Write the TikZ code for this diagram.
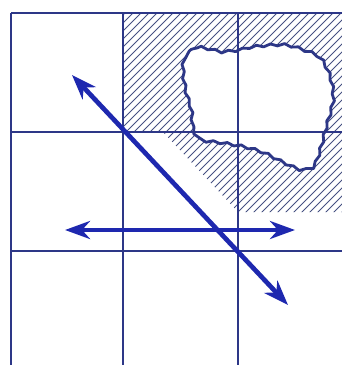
\documentclass[tikz,border=0pt]{standalone}
\usepackage{tikz}
\usetikzlibrary{arrows.meta,decorations.pathmorphing}

\definecolor{gridblue}{RGB}{45,55,135}
\definecolor{arrowblue}{RGB}{30,40,175}
\definecolor{hatchblue}{RGB}{70,80,130}

% outline of the lake (pixel coordinates)
\def\lakepath{plot[smooth cycle] coordinates {(182,57) (197,48) (218,52) (237,50)
    (250,47) (280,45) (300,50) (317,58) (327,77) (330,100) (323,127) (317,150)
    (310,167) (297,170) (280,163) (260,153) (240,147) (217,143) (197,140)
    (190,130) (188,110) (183,93) (180,73)}}

\begin{document}
\begin{tikzpicture}[
    x=0.03cm, y=-0.03cm,
    gridline/.style={gridblue, line width=1.6pt},
    hatchline/.style={hatchblue, line width=0.8pt},
    wobble/.style={decorate, decoration={snake, segment length=12pt, amplitude=1pt}},
    lake/.style={gridblue, line width=2.4pt, line join=round, wobble},
    dblarrow/.style={{Stealth[length=7.5mm, width=5.4mm, inset=2.4mm]}-{Stealth[length=7.5mm, width=5.4mm, inset=2.4mm]},
        arrowblue, line width=4pt}
]
\useasboundingbox (0,0) rectangle (342,365);

% hatched zone
\begin{scope}
    \clip (123,13) -- (342,13) -- (342,212) -- (238,212) -- (163,132) -- (123,132) -- cycle;
    \foreach \c in {130,138,...,560}
        \draw[hatchline] (\c,0) -- (\c-250,250);
\end{scope}
\fill[white, wobble] \lakepath;

% grid
\foreach \x in {11,123,238}
    \draw[gridline] (\x,13) -- (\x,365);
\foreach \y in {13,132,251}
    \draw[gridline] (11,\y) -- (342,\y);

\draw[lake] \lakepath;

% arrows
\coordinate (diagA) at (72,75);
\coordinate (diagB) at (288,305);
\coordinate (horA)  at (65,230);
\coordinate (horB)  at (295,230);

\draw[dblarrow] (horA) -- (horB);
\draw[dblarrow] (diagA) -- (diagB);
\end{tikzpicture}
\end{document}
